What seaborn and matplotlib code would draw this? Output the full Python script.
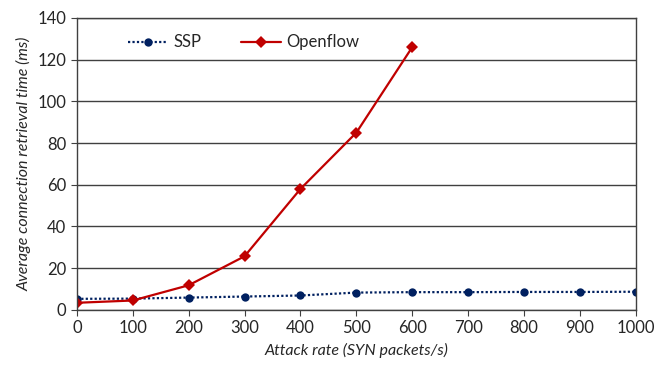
import pandas as pd
import seaborn as sns
import matplotlib.pyplot as plt

# values
rate_ssp = [0, 100, 200, 300, 400, 500, 600, 700, 800, 900, 1000]
ssp_ms = [5.3, 5.4, 5.9, 6.4, 6.9, 8.3, 8.5, 8.5, 8.6, 8.6, 8.7]
rate_of = [0, 100, 200, 300, 400, 500, 600]
openflow_ms = [3.4, 4.5, 11.8, 25.7, 58, 85, 126]

df = pd.concat([
    pd.DataFrame({'rate': rate_ssp, 'time': ssp_ms, 'series': 'SSP'}),
    pd.DataFrame({'rate': rate_of, 'time': openflow_ms, 'series': 'Openflow'}),
])

sns.set_style('ticks')
plt.rcParams['font.family'] = ['Lato', 'DejaVu Sans']

fig = plt.figure(figsize=(6.68, 3.65), dpi=100)
ax = fig.add_axes([0.115, 0.151, 0.837, 0.8])

sns.lineplot(data=df, x='rate', y='time', hue='series', style='series',
             palette={'SSP': '#002060', 'Openflow': '#C00000'},
             markers={'SSP': 'o', 'Openflow': 'D'},
             dashes={'SSP': (1, 1), 'Openflow': ''},
             markersize=6, markeredgewidth=0, linewidth=1.6, ax=ax)

ax.set_xlim(0, 1000)
ax.set_ylim(0, 140)
ax.set_xticks(range(0, 1001, 100))
ax.set_yticks(range(0, 141, 20))
ax.yaxis.grid(True, color='#404040', linewidth=1)
ax.set_axisbelow(True)
for s in ax.spines.values():
    s.set_color('#404040')
    s.set_linewidth(1)
ax.tick_params(axis='both', labelsize=12, color='#404040', length=4)
ax.set_xlabel('Attack rate (SYN packets/s)', fontstyle='italic', fontsize=11.5, labelpad=5)
ax.set_ylabel('Average connection retrieval time (ms)', fontstyle='italic', fontsize=11.5)

ax.legend(title=None, ncol=2, frameon=False, loc='upper left',
          bbox_to_anchor=(0.065, 0.995), fontsize=12, columnspacing=2.4,
          handlelength=2.4, handletextpad=0.3)

fig.savefig('out.png', dpi=100)
